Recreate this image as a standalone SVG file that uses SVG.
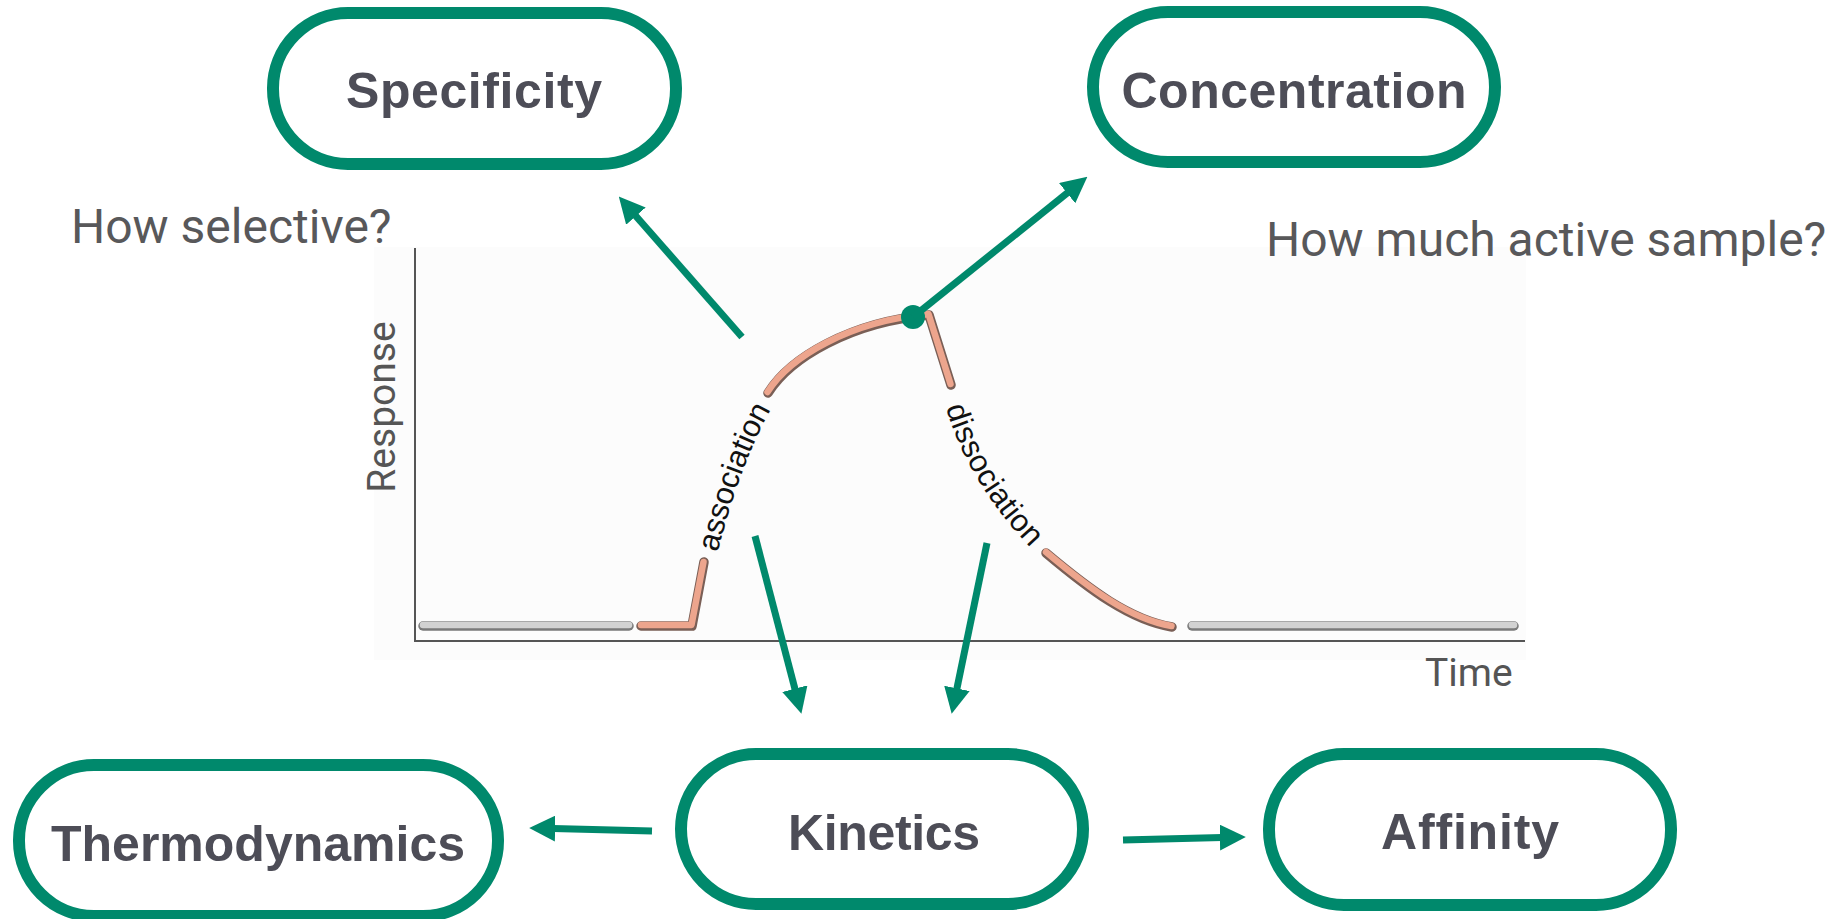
<svg xmlns="http://www.w3.org/2000/svg" width="1839" height="919" viewBox="0 0 1839 919">
  <style>
    .pill { fill: #ffffff; stroke: #00896c; stroke-width: 12; }
    .lbl { font-family: "Liberation Sans", Arial, sans-serif; font-weight: bold; font-size: 50px; fill: #4d4d57; text-anchor: middle; }
    .q { font-family: Roboto, "Liberation Sans", sans-serif; font-size: 48px; fill: #58585a; }
    .ax { font-family: Roboto, "Liberation Sans", sans-serif; font-size: 39px; fill: #555555; }
    .curvelbl { font-family: "Liberation Sans", Arial, sans-serif; font-size: 31px; fill: #111111; }
    .conn { stroke: #00896c; stroke-width: 7; fill: none; marker-end: url(#head); }
    .tube-dark { fill: none; stroke: #7a5f56; stroke-width: 9.5; stroke-linecap: round; stroke-linejoin: round; }
    .tube-o { fill: none; stroke: #eda58d; stroke-width: 6.5; stroke-linecap: round; stroke-linejoin: round; }
    .tube-gdark { fill: none; stroke: #7a7a7a; stroke-width: 9.5; stroke-linecap: round; }
    .tube-g { fill: none; stroke: #d2d2d2; stroke-width: 6.5; stroke-linecap: round; }
  </style>
  <defs>
    <marker id="head" markerUnits="userSpaceOnUse" markerWidth="26" markerHeight="26" refX="2" refY="12" orient="auto" viewBox="0 0 24 24">
      <path d="M0,0 L24,12 L0,24 Z" fill="#00896c"/>
    </marker>
    <path id="assocPath" d="M706,566 C722,500 742,440 772,392"/>
    <path id="dissocPath" d="M949,386 C962,450 1000,508 1050,556"/>
  </defs>

  <rect width="1839" height="919" fill="#ffffff"/>

  <g id="chart">
    <rect x="374" y="247" width="1152" height="413" fill="#fcfcfc"/>
    <line x1="415" y1="248" x2="415" y2="642" stroke="#555555" stroke-width="2"/>
    <line x1="414" y1="641" x2="1525" y2="641" stroke="#555555" stroke-width="2"/>
    <text class="ax" x="395" y="407" text-anchor="middle" transform="rotate(-90 395 407)">Response</text>
    <text class="ax" x="1425" y="686">Time</text>

    <path class="tube-gdark" d="M423,626 L629,626"/>
    <path class="tube-g" d="M423,625 L629,625"/>
    <path class="tube-gdark" d="M1192,626 L1514,626"/>
    <path class="tube-g" d="M1192,625 L1514,625"/>

    <path class="tube-dark" d="M641,626 L692,626 L704,562"/>
    <path class="tube-o" d="M641,625 L691.5,625 L703.5,562"/>
    <path class="tube-dark" d="M768,393 C790,358 850,322 929,315 L951,385"/>
    <path class="tube-o" d="M767.5,392 C789.5,357 849.5,321 928.5,314 L950.5,384"/>
    <path class="tube-dark" d="M1046,553 C1090,590 1130,620 1172,627"/>
    <path class="tube-o" d="M1046,552 C1090,589 1130,619 1171.5,626"/>

    <text class="curvelbl" dominant-baseline="middle"><textPath href="#assocPath" startOffset="50%" text-anchor="middle">association</textPath></text>
    <text class="curvelbl" dominant-baseline="middle"><textPath href="#dissocPath" startOffset="50%" text-anchor="middle">dissociation</textPath></text>

    <circle cx="913" cy="317" r="12" fill="#00896c"/>
  </g>

  <text class="q" x="71" y="243">How selective?</text>
  <text class="q" x="1266" y="256">How much active sample?</text>

  <g id="connectors">
    <line class="conn" x1="742" y1="337" x2="634.5" y2="214.5"/>
    <line class="conn" x1="913" y1="317" x2="1068.8" y2="191.8"/>
    <line class="conn" x1="755" y1="536" x2="795.4" y2="690.7"/>
    <line class="conn" x1="987" y1="543" x2="956.5" y2="690.5"/>
    <line class="conn" x1="652" y1="831" x2="553" y2="828.5"/>
    <line class="conn" x1="1123" y1="840" x2="1222" y2="837.5"/>
  </g>

  <g id="node-specificity">
    <rect class="pill" x="273" y="13" width="403" height="151" rx="75" ry="75"/>
    <text class="lbl" x="474" y="108" textLength="256">Specificity</text>
  </g>
  <g id="node-concentration">
    <rect class="pill" x="1093" y="12" width="402" height="150" rx="75" ry="75"/>
    <text class="lbl" x="1294" y="108" textLength="345">Concentration</text>
  </g>
  <g id="node-thermodynamics">
    <rect class="pill" x="19" y="765" width="479" height="151" rx="75" ry="75"/>
    <text class="lbl" x="258" y="861" textLength="414">Thermodynamics</text>
  </g>
  <g id="node-kinetics">
    <rect class="pill" x="681" y="754" width="402" height="150" rx="75" ry="75"/>
    <text class="lbl" x="884" y="850" textLength="192">Kinetics</text>
  </g>
  <g id="node-affinity">
    <rect class="pill" x="1269" y="754" width="402" height="151" rx="75" ry="75"/>
    <text class="lbl" x="1470" y="849" textLength="178">Affinity</text>
  </g>
</svg>
